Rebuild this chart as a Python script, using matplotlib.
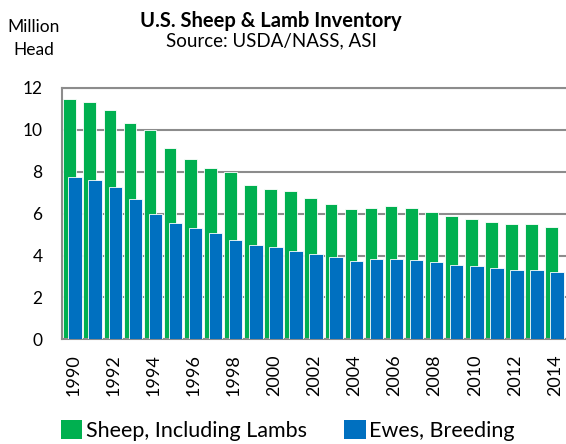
import numpy as np
import matplotlib.pyplot as plt
from matplotlib.patches import Patch

# data (million head)
years = list(range(1990, 2015))
sheep = [11.48, 11.31, 10.95, 10.35, 9.98, 9.14, 8.62, 8.17, 7.98, 7.38, 7.19, 7.06, 6.76,
         6.48, 6.22, 6.29, 6.35, 6.27, 6.10, 5.89, 5.76, 5.62, 5.52, 5.49, 5.36]
ewes = [7.76, 7.59, 7.29, 6.70, 6.00, 5.55, 5.30, 5.06, 4.73, 4.49, 4.40, 4.22, 4.08,
        3.92, 3.73, 3.82, 3.82, 3.78, 3.70, 3.55, 3.49, 3.40, 3.33, 3.30, 3.22]
tick_years = years[::2]
series_names = ['Sheep, Including Lambs', 'Ewes, Breeding']

green = '#00B050'
blue = '#0070C0'
grid_c = '#8C8C8C'

plt.rcParams['font.family'] = ['Lato', 'DejaVu Sans']

W, H = 566, 444
fig = plt.figure(figsize=(W / 100, H / 100), dpi=100)
ax = fig.add_axes([62 / W, (H - 339.3) / H, (W - 62) / W, 251.3 / H])

x = np.arange(len(years))
ax.bar(x - 0.167, sheep, width=0.63, color=green, edgecolor='white', linewidth=0.6, zorder=2)
ax.bar(x + 0.10, ewes, width=0.67, color=blue, edgecolor='white', linewidth=0.6, zorder=3)

ax.set_xlim(-0.55, 24.54)
ax.set_ylim(0, 12)
ax.set_yticks(range(0, 13, 2))
ax.yaxis.grid(True, color=grid_c, linewidth=1.5, zorder=0)
ax.set_axisbelow(True)

ax.set_xticks([years.index(y) for y in tick_years])
ax.set_xticklabels([str(y) for y in tick_years], rotation=90, fontsize=13)
ax.tick_params(axis='x', length=0, pad=11)
ax.tick_params(axis='y', length=0, pad=14, labelsize=12.5)

for s in ['left', 'bottom', 'top']:
    ax.spines[s].set_color(grid_c)
    ax.spines[s].set_linewidth(1.5)
ax.spines['right'].set_visible(False)

fig.text(0.479, 0.940, 'U.S. Sheep & Lamb Inventory', ha='center', va='baseline',
         fontsize=14.5, fontweight='bold')
fig.text(0.479, 0.895, 'Source: USDA/NASS, ASI', ha='center', va='baseline', fontsize=13.5)
fig.text(0.060, 0.927, 'Million', ha='center', va='baseline', fontsize=12.5)
fig.text(0.060, 0.876, 'Head', ha='center', va='baseline', fontsize=12.5)

handles = [Patch(facecolor=green, edgecolor='none'), Patch(facecolor=blue, edgecolor='none')]
fig.legend(handles, series_names, loc='lower left', bbox_to_anchor=(48 / W, -0.022),
           ncol=2, frameon=False, fontsize=15.5, handlelength=1.0, handleheight=1.0,
           handletextpad=0.15, columnspacing=1.75, borderaxespad=0.2)

fig.savefig('out.png', dpi=100)
